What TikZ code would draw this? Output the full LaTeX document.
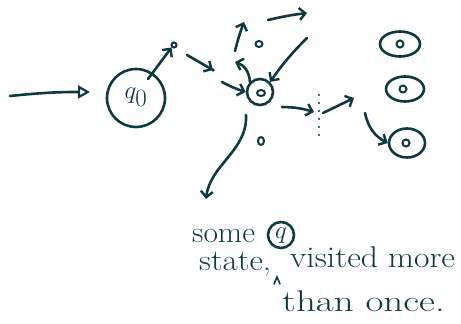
\documentclass[tikz,border=0pt]{standalone}
\usetikzlibrary{arrows.meta,shapes.geometric}
\definecolor{ink}{HTML}{0E3A3F}
\begin{document}
\begin{tikzpicture}[x=1pt,y=-1pt,
  pen/.style={draw=ink,line width=2.6pt,line cap=round,line join=round},
  barb/.style={pen,-{Straight Barb[length=6pt,width=12pt,line width=2.4pt]}},
  state/.style={circle,pen,inner sep=0pt},
  dotstate/.style={ellipse,draw=ink,line width=2pt,inner sep=0pt},
  ring/.style={ellipse,pen,inner sep=0pt},
  hand/.style={text=ink,font=\fontsize{30}{32}\selectfont,inner sep=0pt,anchor=base west}]
\useasboundingbox (0,0) rectangle (461,324);

% initial state q0 and the entry arrow
\node[state,minimum size=58pt] (q0) at (136,98) {};
\node[text=ink,font=\fontsize{34}{36}\selectfont] (q0l) at (136,97) {$q_0$};
\coordinate (in) at (10,96);
\coordinate (inend) at (90,92);
\draw[pen,-{Triangle[open,length=12pt,width=13pt,line width=2.2pt]}] (in) to[bend left=3] (inend);

% small intermediate states
\node[dotstate,minimum size=5pt] (s1) at (174,45) {};
\node[dotstate,minimum width=7pt,minimum height=6pt] (o1) at (259,44) {};
\node[dotstate,minimum width=6pt,minimum height=8pt] (o2) at (261,141) {};

% the central state that is entered many times
\node[state,minimum size=26pt] (m) at (260,92) {};
\node[dotstate,minimum width=8pt,minimum height=6pt] (mi) at (261,93) {};

% states on the right
\node[ring,minimum width=40pt,minimum height=25pt] (r1) at (400,44) {};
\node[dotstate,minimum size=7pt] (r1i) at (400,44) {};
\node[ring,minimum width=38pt,minimum height=25pt] (r2) at (405,89) {};
\node[dotstate,minimum size=7pt] (r2i) at (403,89) {};
\node[ring,minimum width=36pt,minimum height=29pt] (r3) at (407,143) {};
\node[dotstate,minimum size=7pt] (r3i) at (406,143) {};

% free ends of the sketched transitions
\coordinate (a1s) at (187,55);
\coordinate (a1e) at (213,70);
\coordinate (a2s) at (222,82);
\coordinate (upl) at (235,62);
\coordinate (ups) at (235,51);
\coordinate (upe) at (244,22);
\coordinate (tops) at (268,20);
\coordinate (tope) at (307,13);
\coordinate (rets) at (307,38);
\coordinate (downs) at (246,115);
\coordinate (downe) at (206,199);
\coordinate (rts) at (282,107);
\coordinate (rte) at (314,112);
\coordinate (cuts) at (319,95);
\coordinate (cute) at (319,138);
\coordinate (fs) at (323,113);
\coordinate (fe) at (354,98);
\coordinate (gs) at (365,113);

% transitions
\draw[barb] (q0) ++(12,-19) -- (s1.south west);
\draw[barb] (a1s) -- (a1e);
\fill[ink] (a1e) circle (1.8pt);
\draw[barb] (a2s) to[bend right=5] (m.west);
\draw[barb] (m.north west) to[bend right=35] (upl);
\draw[barb] (ups) to[bend left=3] (upe);
\draw[barb] (tops) to[bend left=3] (tope);
\draw[barb] (rets) to[bend right=5] (m.north east);
\draw[barb] (downs) .. controls (248,150) and (210,165) .. (downe);
\draw[barb] (rts) to[bend left=8] (rte);
\draw[ink,line width=2.2pt,line cap=round,dash pattern=on 0pt off 8pt] (cuts) -- (cute);
\draw[barb] (fs) -- (fe);
\draw[barb] (gs) to[bend right=25] (r3.west);

% annotation
\node[hand] (t1) at (192,242) {\scalebox{1.05}[1]{some}};
\node[state,minimum size=26pt] (qc) at (281,235) {};
\node[text=ink,font=\fontsize{24}{26}\selectfont] (qcl) at (281,236) {$q$};
\node[hand] (t2) at (199,270) {\scalebox{1.1}[1]{state,}};
\node[hand] (t3) at (290,267) {\scalebox{1.12}[1]{visited more}};
\coordinate (c1) at (274,284);
\coordinate (c2) at (277,277);
\coordinate (c3) at (280,284);
\draw[ink,line width=1.6pt,line cap=round] (c1) -- (c2) -- (c3);
\node[hand] (t4) at (282,311) {\scalebox{1.3}[1]{than once.}};
\end{tikzpicture}
\end{document}
